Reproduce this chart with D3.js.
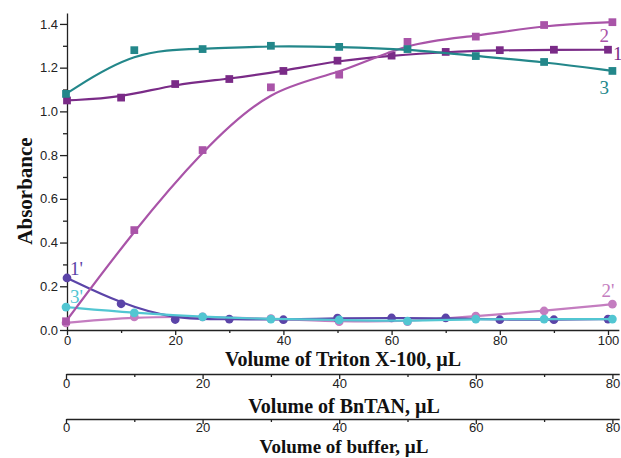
<!DOCTYPE html>
<html>
<head>
<meta charset="utf-8">
<script src="https://cdn.jsdelivr.net/npm/d3@7"></script>
<style>
body { margin: 0; background: #fff; }
.tick text { font-family: "Liberation Sans", Arial, sans-serif; font-size: 13px; fill: #222; }
.axis path, .axis line { stroke: #222; stroke-width: 1.3; }
.ttl { font-family: "Liberation Serif", "Times New Roman", serif; font-weight: bold; fill: #111; }
.lbl { font-family: "Liberation Serif", "Times New Roman", serif; font-size: 19px; }
</style>
</head>
<body>
<div id="chart"></div>
<script>
// x in µL of Triton X-100 (series 1, 1')
var tritonX = [0, 10, 20, 30, 40, 50, 60, 70, 80, 90, 100];
// x in µL of BnTAN / buffer (series 2, 3, 2', 3')
var addX = [0, 10, 20, 30, 40, 50, 60, 70, 80];

var s1  = [1.05, 1.063, 1.125, 1.148, 1.185, 1.232, 1.255, 1.272, 1.28, 1.282, 1.282];
var s1p = [0.238, 0.12, 0.048, 0.05, 0.047, 0.054, 0.055, 0.055, 0.047, 0.047, 0.05];
var s2  = [0.04, 0.457, 0.823, 1.11, 1.168, 1.318, 1.342, 1.395, 1.408];
var s2p = [0.033, 0.06, 0.06, 0.052, 0.038, 0.038, 0.064, 0.087, 0.118];
var s3  = [1.08, 1.28, 1.285, 1.3, 1.295, 1.285, 1.253, 1.226, 1.185];
var s3p = [0.105, 0.078, 0.06, 0.05, 0.046, 0.041, 0.05, 0.05, 0.05];

var yTicks = [0, 0.2, 0.4, 0.6, 0.8, 1.0, 1.2, 1.4];

var svg = d3.select("#chart").append("svg")
    .attr("width", 621)
    .attr("height", 458);

var x = d3.scaleLinear().domain([0, 102]).range([67, 67 + 102 * 5.41]);
var x2 = d3.scaleLinear().domain([0, 81]).range([66, 66 + 81 * 6.83]);
var y = d3.scaleLinear().domain([0, 1.45]).range([330, 13]);

// y axis
svg.append("g").attr("class", "axis")
    .attr("transform", "translate(67,0)")
    .call(d3.axisLeft(y).tickValues(d3.range(0.1, 1.45, 0.2)).tickSize(4).tickFormat(""))
    .call(function(g) { g.select(".domain").remove(); });
svg.append("g").attr("class", "axis")
    .attr("transform", "translate(67,0)")
    .call(d3.axisLeft(y).tickValues(yTicks).tickSize(7).tickSizeOuter(0).tickFormat(d3.format(".1f")))
    .call(function(g) { g.selectAll(".tick text").attr("x", -9); });

function xAxis(sc, ypos, maxv, ly) {
    svg.append("g").attr("class", "axis")
        .attr("transform", "translate(0," + ypos + ")")
        .call(d3.axisBottom(sc).tickValues(d3.range(10, maxv, 20)).tickSize(3).tickFormat(""))
        .call(function(g) { g.select(".domain").remove(); });
    svg.append("g").attr("class", "axis")
        .attr("transform", "translate(0," + ypos + ")")
        .call(d3.axisBottom(sc).tickValues(d3.range(0, maxv + 1, 20)).tickSize(5).tickSizeOuter(0))
        .call(function(g) { g.selectAll(".tick text").attr("y", ly); });
}
xAxis(x, 330, 100, 6);
xAxis(x2, 374, 80, 5);
xAxis(x2, 419, 80, 4);

svg.append("text").attr("class", "ttl")
    .attr("x", 343).attr("y", 366).attr("text-anchor", "middle")
    .style("font-size", "20px")
    .text("Volume of Triton X-100, \u00b5L");
svg.append("text").attr("class", "ttl")
    .attr("x", 344).attr("y", 413).attr("text-anchor", "middle")
    .style("font-size", "20px")
    .text("Volume of BnTAN, \u00b5L");
svg.append("text").attr("class", "ttl")
    .attr("x", 344).attr("y", 453).attr("text-anchor", "middle")
    .style("font-size", "19px")
    .text("Volume of buffer, \u00b5L");
svg.append("text").attr("class", "ttl")
    .attr("transform", "translate(32,191) rotate(-90)")
    .attr("text-anchor", "middle")
    .style("font-size", "21px")
    .text("Absorbance");

function series(xs, vals, sc, color, shape) {
    var pts = vals.map(function(v, i) { return [sc(xs[i]), y(v)]; });
    svg.append("path")
        .attr("d", d3.line().curve(d3.curveBasis)(pts))
        .attr("fill", "none")
        .attr("stroke", color)
        .attr("stroke-width", 2.2);
    var sym = d3.symbol().type(shape == "sq" ? d3.symbolSquare : d3.symbolCircle)
        .size(60);
    svg.selectAll(null)
        .data(pts)
        .enter()
        .append("path")
        .attr("transform", function(d) { return "translate(" + d[0] + "," + d[1] + ")"; })
        .attr("d", sym)
        .attr("fill", color);
}

series(addX, s2p, x2, "#c47dc0", "ci");
series(tritonX, s1p, x, "#5b44a8", "ci");
series(addX, s3p, x2, "#52c6d2", "ci");
series(tritonX, s1, x, "#7a2b87", "sq");
series(addX, s2, x2, "#a954a8", "sq");
series(addX, s3, x2, "#23878a", "sq");

function label(t, px, py, color) {
    svg.append("text").attr("class", "lbl")
        .attr("x", px).attr("y", py)
        .attr("fill", color)
        .text(t);
}
label("2", x2(80) - 13, y(s2[8]) + 20, "#a954a8");
label("1", x(100) + 5, y(s1[10]) + 10, "#7a2b87");
label("3", x2(80) - 13, y(s3[8]) + 23, "#23878a");
label("1'", x(0) + 3, y(s1p[0]) - 3, "#5b44a8");
label("3'", x2(0) + 4, y(s3p[0]) - 4, "#52c6d2");
label("2'", x2(80) - 11, y(s2p[8]) - 7, "#c47dc0");
</script>
</body>
</html>
